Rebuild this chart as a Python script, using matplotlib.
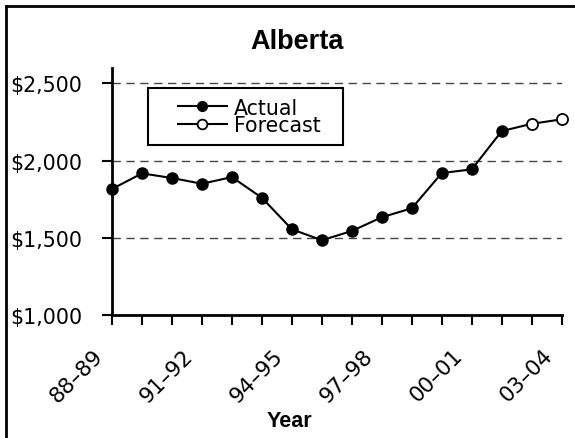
import matplotlib
matplotlib.use("Agg")
import matplotlib.pyplot as plt
from matplotlib.lines import Line2D
from matplotlib.patches import Rectangle
import matplotlib.transforms as mtransforms

years = ["88–89", "89–90", "90–91", "91–92", "92–93", "93–94", "94–95", "95–96",
         "96–97", "97–98", "98–99", "99–00", "00–01", "01–02", "02–03", "03–04"]
actual = [1816, 1917, 1887, 1850, 1893, 1759, 1555, 1484,
          1544, 1633, 1691, 1919, 1943, 2191]
forecast = [2238, 2267]
yticks = [1000, 1500, 2000, 2500]
ytick_labels = ["$1,000", "$1,500", "$2,000", "$2,500"]

plt.rcParams['font.family'] = ['DejaVu Sans']
BOLD = ['Liberation Sans', 'DejaVu Sans']
FS = 14.8

W, H = 575, 439
fig = plt.figure(figsize=(W / 100, H / 100), dpi=100)
ax = fig.add_axes([112 / W, 1 - 316 / H, (561.7 - 112) / W, (316 - 68.9) / H])

x_act = list(range(len(actual)))
x_fc = list(range(len(actual) - 1, len(actual) + len(forecast)))
y_fc = [actual[-1]] + forecast

ms = 8
ax.plot(x_fc, y_fc, color='black', lw=1.5, marker='o', ms=ms,
        markerfacecolor='white', markeredgecolor='black', markeredgewidth=1.3,
        markevery=list(range(1, len(y_fc))), zorder=3, clip_on=False)
ax.plot(x_act, actual, color='black', lw=1.5, marker='o', ms=ms,
        markerfacecolor='black', markeredgecolor='black', zorder=4, clip_on=False)

ax.set_xlim(0, len(years) - 1)
ax.set_ylim(1000, 2600)
ax.set_yticks(yticks)
ax.set_yticklabels(ytick_labels, fontsize=FS)
ax.set_xticks(range(len(years)))
ax.set_xticklabels([])

# rotated category labels, every third year
lab_off = mtransforms.ScaledTranslation(-19 / 100, -30 / 100, fig.dpi_scale_trans)
for i, y in enumerate(years):
    if i % 3 == 0:
        ax.text(i, 0, y, fontsize=15.5, rotation=45, ha='right', va='top',
                rotation_mode='anchor',
                transform=ax.get_xaxis_transform() + lab_off, clip_on=False)

for v in yticks[1:]:
    ax.axhline(v, color='#444444', lw=1, ls=(0, (6, 4)), zorder=1)

for s in ['top', 'right']:
    ax.spines[s].set_visible(False)
for s in ['left', 'bottom']:
    ax.spines[s].set_linewidth(2)
ax.tick_params(axis='both', direction='out', length=7, width=1.5, color='black')
ax.tick_params(axis='y', pad=14.4)

fig.text(297 / W, 1 - 49 / H, "Alberta", fontsize=19.5, fontweight='bold',
         family=BOLD, ha='center', va='baseline')
fig.text(289.5 / W, 1 - 427 / H, "Year", fontsize=15.5, fontweight='bold',
         family=BOLD, ha='center', va='baseline')

handles = [Line2D([], [], color='black', lw=1.5, marker='o', ms=7,
                  markerfacecolor='black', markeredgecolor='black'),
           Line2D([], [], color='black', lw=1.5, marker='o', ms=7,
                  markerfacecolor='white', markeredgecolor='black', markeredgewidth=1.3)]
leg = fig.legend(handles, ["Actual", "Forecast"], loc='center left',
                 bbox_to_anchor=(178 / W, 1 - 117.5 / H), frameon=False,
                 fontsize=FS, handlelength=2.38, handletextpad=0.34,
                 labelspacing=-0.1, borderpad=0, borderaxespad=0)
fig.add_artist(Rectangle((148 / W, 1 - 146 / H), (343 - 148) / W, (146 - 89) / H,
                         transform=fig.transFigure, fill=True, facecolor='white',
                         edgecolor='black', lw=1.5, zorder=2))
leg.set_zorder(5)

# figure border (top and left visible)
fig.add_artist(Line2D([6 / W, 1.0], [1 - 6.7 / H, 1 - 6.7 / H], color='black', lw=2,
                      transform=fig.transFigure))
fig.add_artist(Line2D([6 / W, 6 / W], [0, 1 - 6.7 / H], color='black', lw=2,
                      transform=fig.transFigure))

fig.savefig("out.png", dpi=100)
